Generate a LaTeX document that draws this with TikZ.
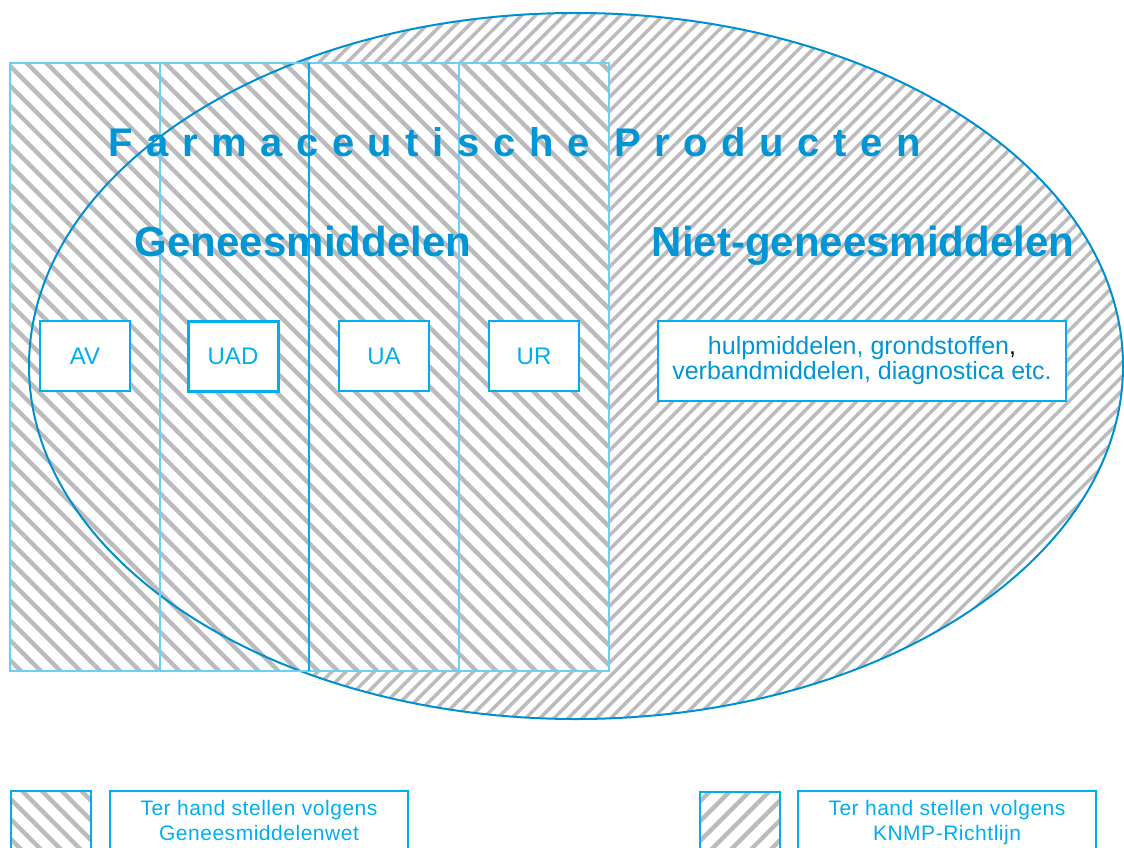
\documentclass[tikz,border=0pt]{standalone}
\usepackage{fontspec}
\setmainfont{Liberation Sans}
\usepackage{tikz}
\usetikzlibrary{patterns.meta}
\usetikzlibrary{positioning}
\usepackage{xcolor}
\definecolor{titleblue}{RGB}{0,150,214}
\definecolor{boxcyan}{RGB}{0,174,239}
\definecolor{colcyan}{RGB}{110,207,246}
\definecolor{ovalblue}{RGB}{0,144,208}
\definecolor{hatchgray}{RGB}{187,187,190}

\begin{document}
\begin{tikzpicture}[x=1pt,y=-1pt,
	colhatch/.style={pattern={Lines[angle=-45,distance=14pt,line width=4.4pt]},pattern color=hatchgray},
	ovalhatch/.style={pattern={Lines[angle=45,distance=10pt,line width=3.5pt]},pattern color=hatchgray},
	colline/.style={draw=colcyan,line width=2pt},
	catbox/.style={draw=boxcyan,line width=2pt,fill=white,text=boxcyan,minimum width=90pt,minimum height=70pt,inner sep=0pt,font=\fontsize{24}{25}\selectfont},
	headtext/.style={text=titleblue,inner sep=0pt,font=\fontsize{42}{48}\selectfont\bfseries},
	legtext/.style={draw=boxcyan,line width=2pt,text=boxcyan,align=center,anchor=north,minimum width=298pt,inner xsep=0pt,inner ysep=9pt,font=\fontsize{21}{25}\selectfont\addfontfeature{LetterSpace=2.5}},
	legpat/.style={draw=boxcyan,line width=2pt,minimum width=80pt,minimum height=80pt,anchor=north west,inner sep=0pt}
]
\useasboundingbox (0,0) rectangle (1124,848);

% hatched oval and columns
\path[ovalhatch] (576,366) ellipse [x radius=547pt, y radius=353pt];
\path[colhatch,preaction={fill=white}] (10,63) rectangle (609,671);
\draw[ovalblue,line width=2pt] (576,366) ellipse [x radius=547pt, y radius=353pt];
\foreach \x/\w in {10/150,160/149,309/150,459/150}
	\draw[colline] (\x,63) rectangle ++(\w,608);
\draw[boxcyan,line width=2pt] (309,63) -- (309,671);

% titles
\node[text=titleblue,inner sep=0pt,anchor=base west,font=\fontsize{40}{48}\selectfont\bfseries\addfontfeature{LetterSpace=34}] (farma) at (108,157) {Farmaceutische Producten};
\node[headtext,anchor=base] (genees) at (303,256) {Geneesmiddelen};
\node[headtext,anchor=base] (niet) at (863,256) {Niet-geneesmiddelen};

% categories
\node[catbox] (av) at (85,356) {AV};
\node[catbox,line width=3pt] (uad) at (233,356) {UAD};
\node[catbox] (ua) at (384,356) {UA};
\node[catbox] (ur) at (534,356) {UR};
\node[catbox,text=titleblue,minimum width=408pt,minimum height=80pt,align=center,font=\fontsize{25}{25}\selectfont] (overig) at (862,361)
	{hulpmiddelen, grondstoffen\textcolor{black}{,}\\verbandmiddelen, diagnostica etc.};

% legend
\node[legpat,colhatch] (legwet) at (10,790) {};
\node[legtext] (legwettext) at (259,790) {Ter hand stellen volgens\\Geneesmiddelenwet};
\node[legpat,pattern={Lines[angle=45,distance=14pt,line width=4.4pt]},pattern color=hatchgray] (legknmp) at (698,790) {};
\node[legtext] (legknmptext) at (947,790) {Ter hand stellen volgens\\KNMP-Richtlijn};
\end{tikzpicture}
\end{document}
